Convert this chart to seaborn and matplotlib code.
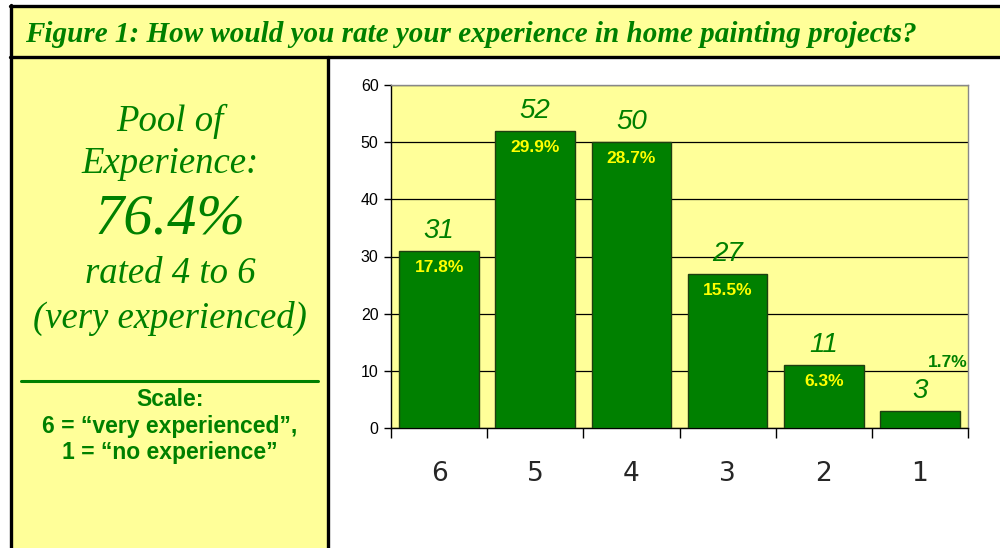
import matplotlib
matplotlib.use("Agg")
import matplotlib.pyplot as plt
from matplotlib.patches import Rectangle
from matplotlib.lines import Line2D
import seaborn as sns
import pandas as pd

# survey data
ratings = ["6", "5", "4", "3", "2", "1"]
counts = [31, 52, 50, 27, 11, 3]
shares = ["17.8%", "29.9%", "28.7%", "15.5%", "6.3%", "1.7%"]

title = "Figure 1: How would you rate your experience in home painting projects?"
pool_lines = ["Pool of", "Experience:", "76.4%", "rated 4 to 6", "(very experienced)"]
scale_lines = ["Scale:", "6 = \u201cvery experienced\u201d,", "1 = \u201cno experience\u201d"]

GREEN = "#008000"
PALE = "#ffff99"
W, H = 1000, 548

sns.set_style("white")
plt.rcParams["font.family"] = ["Liberation Sans", "DejaVu Sans"]

fig = plt.figure(figsize=(10, 5.48), dpi=100)


def fx(px):
    return px / W


def fy(py):
    return 1 - py / H


# frame: title band and left panel
fig.add_artist(Rectangle((fx(11), fy(57)), fx(989), 51 / H, transform=fig.transFigure,
                         facecolor=PALE, edgecolor="none", zorder=0))
fig.add_artist(Rectangle((fx(11), 0), fx(317), fy(57), transform=fig.transFigure,
                         facecolor=PALE, edgecolor="none", zorder=0))
for (x0, y0, x1, y1) in [(10, 6, 1000, 6), (10, 57, 1000, 57), (11, 5, 11, 548), (328, 57, 328, 548)]:
    fig.add_artist(Line2D([fx(x0), fx(x1)], [fy(y0), fy(y1)], transform=fig.transFigure,
                          color="black", lw=2.4, zorder=1))

fig.text(fx(25), fy(34), title, ha="left", va="center", color=GREEN, fontsize=21,
         fontweight="bold", fontstyle="italic", family=["Liberation Serif", "DejaVu Serif"])

# left panel text
pool_y = [121, 164, 219, 274, 318]
pool_size = [26.5, 26.5, 42, 26.5, 26.5]
for txt, yy, sz in zip(pool_lines, pool_y, pool_size):
    fig.text(fx(170), fy(yy), txt, ha="center", va="center", color=GREEN, fontsize=sz,
             fontstyle="italic", family=["Liberation Serif", "DejaVu Serif"])
fig.add_artist(Line2D([fx(21), fx(318)], [fy(381), fy(381)], transform=fig.transFigure,
                      color=GREEN, lw=2.2))
for txt, yy in zip(scale_lines, [400, 427, 453]):
    fig.text(fx(170), fy(yy), txt, ha="center", va="center", color=GREEN, fontsize=16.5,
             fontweight="bold")

# bar chart
ax = fig.add_axes([fx(391), fy(428), fx(968 - 391), (428 - 85) / H])
ax.set_facecolor(PALE)
df = pd.DataFrame({"rating": ratings, "count": counts})
sns.barplot(data=df, x="rating", y="count", order=ratings, color=GREEN, saturation=1,
            width=0.83, edgecolor="#1f3f10", linewidth=1, ax=ax, zorder=3)

ax.set_ylim(0, 60)
ax.set_xlim(-0.5, len(ratings) - 0.5)
ax.set_yticks(range(0, 61, 10))
ax.yaxis.grid(True, color="black", lw=0.9, zorder=0)
ax.set_axisbelow(True)
ax.set_xlabel("")
ax.set_ylabel("")
for side in ["top", "right"]:
    ax.spines[side].set_visible(True)
    ax.spines[side].set_color("#888888")
    ax.spines[side].set_linewidth(1)
for side in ["left", "bottom"]:
    ax.spines[side].set_color("black")
    ax.spines[side].set_linewidth(1)

ax.tick_params(axis="y", left=True, length=5, width=1, labelsize=11.5, colors="black", pad=4)
ax.tick_params(axis="x", which="major", bottom=False, length=0, pad=24)
ax.set_xticks([i - 0.5 for i in range(len(ratings) + 1)], minor=True)
ax.tick_params(axis="x", which="minor", bottom=True, length=7, width=1, color="black")
for lab in ax.get_xticklabels():
    lab.set_fontsize(19)
    lab.set_family(["DejaVu Sans Condensed", "Liberation Sans Narrow", "DejaVu Sans"])

for i, (c, s) in enumerate(zip(counts, shares)):
    ax.annotate(str(c), (i, c), xytext=(0, 5), textcoords="offset points", ha="center",
                va="bottom", color=GREEN, fontsize=20, fontstyle="italic", zorder=5)
    if c > 5:
        ax.annotate(s, (i, c), xytext=(0, -12), textcoords="offset points", ha="center",
                    va="center", color="#ffff00", fontsize=12.5, fontweight="bold", zorder=5)
    else:
        ax.annotate(s, (i, c), xytext=(20, 35), textcoords="offset points", ha="center",
                    va="center", color=GREEN, fontsize=12.5, fontweight="bold", zorder=5)

fig.savefig("out.png", dpi=100)
